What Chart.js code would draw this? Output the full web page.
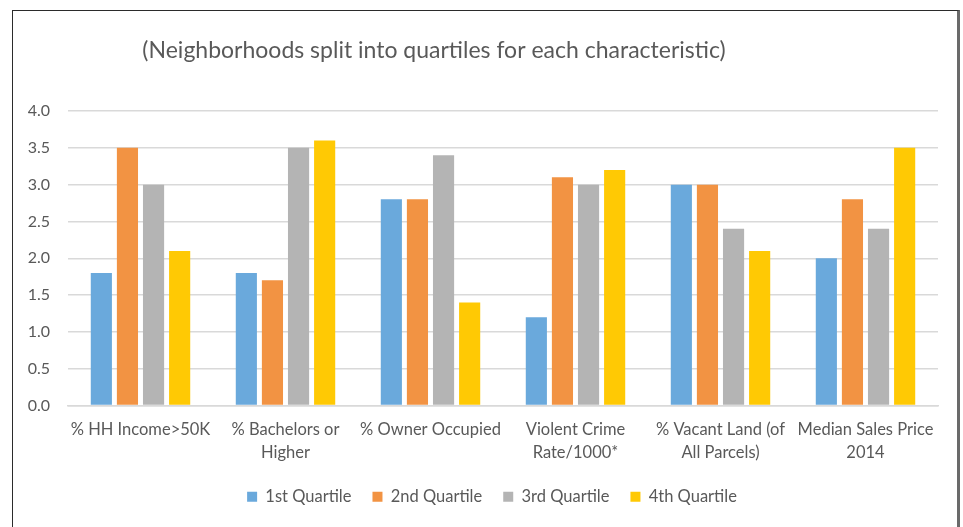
<!DOCTYPE html>
<html>
<head>
<meta charset="utf-8">
<script src="https://cdn.jsdelivr.net/npm/chart.js@4"></script>
<style>
  html, body { margin: 0; padding: 0; background: #fff; overflow: hidden; }
  #wrap { position: relative; width: 963px; height: 527px; }
  #frame {
    position: absolute; left: 12px; top: 10px; width: 944px; height: 540px;
    border-left: 1.5px solid #2b2b2b; border-top: 1.5px solid #2b2b2b;
    border-right: 3px solid #6a6a6a;
  }
  #chart { position: absolute; left: 0; top: 0; }
</style>
</head>
<body>
<div id="wrap">
  <div id="frame"></div>
  <canvas id="chart" width="963" height="527"></canvas>
</div>
<script>
// Neighborhood characteristics by quartile
const categories = [
  ['% HH Income>50K'],
  ['% Bachelors or', 'Higher'],
  ['% Owner Occupied'],
  ['Violent Crime', 'Rate/1000*'],
  ['% Vacant Land (of', 'All Parcels)'],
  ['Median Sales Price', '2014']
];
const q1 = [1.8, 1.8, 2.8, 1.2, 3.0, 2.0];
const q2 = [3.5, 1.7, 2.8, 3.1, 3.0, 2.8];
const q3 = [3.0, 3.5, 3.4, 3.0, 2.4, 2.4];
const q4 = [2.1, 3.6, 1.4, 3.2, 2.1, 3.5];
const seriesNames = ['1st Quartile', '2nd Quartile', '3rd Quartile', '4th Quartile'];
const yTicks = [0, 0.5, 1, 1.5, 2, 2.5, 3, 3.5, 4];

const colors = ['#6aa9dc', '#f29343', '#b4b4b4', '#ffc904'];
const textColor = '#595959';
const fontFam = 'Lato, "Liberation Sans", sans-serif';

// title drawn by hand: it sits left of centre in the original
const titlePlugin = {
  id: 'sideTitle',
  afterDraw(chart) {
    const { ctx } = chart;
    ctx.save();
    ctx.font = '23px ' + fontFam;
    ctx.fillStyle = textColor;
    ctx.textAlign = 'center';
    ctx.textBaseline = 'middle';
    ctx.fillText('(Neighborhoods split into quartiles for each characteristic)', 434, 51);
    ctx.restore();
  }
};

// legend in the original is centred a bit right of the plot centre
const legendShift = {
  id: 'legendShift',
  afterLayout(chart) {
    chart.legend.left += 23;
    chart.legend.right += 23;
  }
};

const dataSets = [q1, q2, q3, q4].map((d, i) => ({
  label: seriesNames[i],
  data: d,
  backgroundColor: colors[i],
  borderWidth: 0,
  barPercentage: 0.81,
  categoryPercentage: 0.72
}));

new Chart(document.getElementById('chart'), {
  type: 'bar',
  data: { labels: categories, datasets: dataSets },
  options: {
    responsive: false,
    animation: false,
    layout: { padding: { left: 0, right: 25, top: 111, bottom: 12 } },
    plugins: {
      title: { display: false },
      tooltip: { enabled: false },
      legend: {
        position: 'bottom',
        labels: {
          boxWidth: 10, boxHeight: 10, padding: 21,
          color: textColor,
          font: { family: fontFam, size: 16.5 }
        }
      }
    },
    scales: {
      x: {
        grid: { display: false, drawTicks: false },
        border: { color: '#d9d9d9', width: 1.5 },
        ticks: {
          color: textColor, padding: 13, maxRotation: 0, autoSkip: false,
          font: { family: fontFam, size: 16.5, lineHeight: 1.4 }
        },
        afterFit(scale) { scale.height = 62; }
      },
      y: {
        min: 0, max: 4,
        afterBuildTicks(scale) { scale.ticks = yTicks.map(v => ({ value: v })); },
        grid: { color: '#d9d9d9', lineWidth: 1.5, drawTicks: false },
        border: { display: false },
        ticks: {
          color: textColor, padding: 18,
          font: { family: fontFam, size: 16 },
          callback: v => v.toFixed(1)
        },
        afterFit(scale) { scale.width = 68; }
      }
    }
  },
  plugins: [titlePlugin, legendShift]
});
</script>
</body>
</html>
